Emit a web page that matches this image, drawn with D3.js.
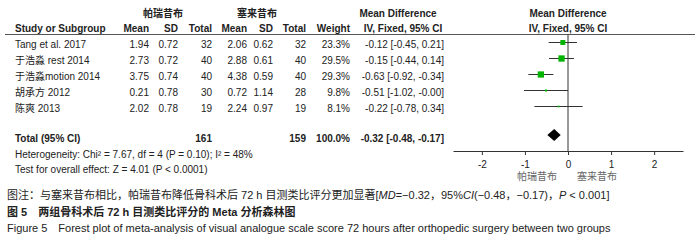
<!DOCTYPE html>
<html>
<head>
<meta charset="utf-8">
<script src="https://cdn.jsdelivr.net/npm/d3@7"></script>
<style>
  body { margin: 0; background: #fff; }
  svg { display: block; font-family: "Liberation Sans", Arial, "Noto Sans CJK SC", sans-serif; }
</style>
</head>
<body>
<div id="forest"></div>
<script>
// data
const studies = ["Tang et al. 2017", "于浩淼 rest 2014", "于浩淼motion 2014", "胡承方 2012", "陈爽 2013"];
const expMean = [1.94, 2.73, 3.75, 0.21, 2.02];
const expSD = [0.72, 0.72, 0.74, 0.78, 0.78];
const expN = [32, 40, 40, 30, 19];
const ctlMean = [2.06, 2.88, 4.38, 0.72, 2.24];
const ctlSD = [0.62, 0.61, 0.59, 1.14, 0.97];
const ctlN = [32, 40, 40, 28, 19];
const weights = [23.3, 29.5, 29.3, 9.8, 8.1];
const md = [-0.12, -0.15, -0.63, -0.51, -0.22];
const ciLow = [-0.45, -0.44, -0.92, -1.02, -0.78];
const ciHigh = [0.21, 0.14, -0.34, -0.0, 0.34];
const total = {expN: 161, ctlN: 159, weight: 100.0, md: -0.32, lo: -0.48, hi: -0.17};
const ticks = [-2, -1, 0, 1, 2];

const W = 700, H = 244;
const svg = d3.select("#forest").append("svg")
  .attr("width", W).attr("height", H);
svg.append("rect").attr("width", W).attr("height", H).attr("fill", "#fff");

const ink = "#222";
// plain hyphen minus like RevMan, keeps "-0.00"
const fmt2 = v => (v < 0 || Object.is(v, -0) ? "-" : "") + Math.abs(v).toFixed(2);
const fmtCI = (m, l, h) => `${fmt2(m)} [${fmt2(l)}, ${fmt2(h)}]`;

// x scale for the plot panel
const x = d3.scaleLinear().domain([-2.67, 2.67]).range([453, 683]);
const rowY = i => 48 + i * 16;      // text baseline
const markY = i => rowY(i) - 5.5;    // centre of marks
const sq = d3.scaleLinear().domain([0, 30]).range([0, 6.4]);

function txt(t, xx, yy, anchor, opts = {}) {
  return svg.append("text")
    .attr("x", xx).attr("y", yy)
    .attr("text-anchor", anchor || "start")
    .attr("font-size", opts.size || 10)
    .attr("font-weight", opts.bold ? "bold" : null)
    .attr("fill", opts.fill || ink)
    .text(t);
}

// headers
txt("帕瑞昔布", 163, 17, "middle", {bold: true});
txt("塞来昔布", 257, 17, "middle", {bold: true});
txt("Mean Difference", 398, 17, "middle", {bold: true});
txt("Mean Difference", 568, 17, "middle", {bold: true});

const hy = 32;
txt("Study or Subgroup", 15, hy, "start", {bold: true});
txt("Mean", 149, hy, "end", {bold: true});
txt("SD", 178, hy, "end", {bold: true});
txt("Total", 212, hy, "end", {bold: true});
txt("Mean", 247, hy, "end", {bold: true});
txt("SD", 273, hy, "end", {bold: true});
txt("Total", 306, hy, "end", {bold: true});
txt("Weight", 350, hy, "end", {bold: true});
txt("IV, Fixed, 95% CI", 403, hy, "middle", {bold: true});
txt("IV, Fixed, 95% CI", 568, hy, "middle", {bold: true});

svg.append("line")
  .attr("x1", 5).attr("x2", 695).attr("y1", 34.5).attr("y2", 34.5)
  .attr("stroke", "#555").attr("stroke-width", 1);

// study rows
studies.forEach((s, i) => {
  const y = rowY(i);
  txt(s, 15, y);
  txt(fmt2(expMean[i]), 149, y, "end");
  txt(fmt2(expSD[i]), 178, y, "end");
  txt(expN[i], 212, y, "end");
  txt(fmt2(ctlMean[i]), 247, y, "end");
  txt(fmt2(ctlSD[i]), 273, y, "end");
  txt(ctlN[i], 306, y, "end");
  txt(weights[i].toFixed(1) + "%", 350, y, "end");
  txt(fmtCI(md[i], ciLow[i], ciHigh[i]), 444, y, "end");
});

// total row
const ty = 142;
txt("Total (95% CI)", 15, ty, "start", {bold: true});
txt(total.expN, 212, ty, "end", {bold: true});
txt(total.ctlN, 306, ty, "end", {bold: true});
txt(total.weight.toFixed(1) + "%", 350, ty, "end", {bold: true});
txt(fmtCI(total.md, total.lo, total.hi), 444, ty, "end", {bold: true});
txt("Heterogeneity: Chi² = 7.67, df = 4 (P = 0.10); I² = 48%", 15, 158);
txt("Test for overall effect: Z = 4.01 (P < 0.0001)", 15, 173);

// zero line
const axisY = 151;
svg.append("line")
  .attr("x1", x(0)).attr("x2", x(0)).attr("y1", 34.5).attr("y2", axisY)
  .attr("stroke", "#333").attr("stroke-width", 1);

// CI lines and squares
const g = svg.append("g");
g.selectAll("line.ci").data(studies).join("line")
  .attr("class", "ci")
  .attr("x1", (d, i) => x(ciLow[i])).attr("x2", (d, i) => x(ciHigh[i]))
  .attr("y1", (d, i) => markY(i)).attr("y2", (d, i) => markY(i))
  .attr("stroke", "#333").attr("stroke-width", 1);
g.selectAll("rect.sq").data(studies).join("rect")
  .attr("class", "sq")
  .attr("x", (d, i) => x(md[i]) - sq(weights[i]) / 2)
  .attr("y", (d, i) => markY(i) - sq(weights[i]) / 2)
  .attr("width", (d, i) => sq(weights[i]))
  .attr("height", (d, i) => sq(weights[i]))
  .attr("fill", "#00b400");

// diamond
const dy = 135;
svg.append("path")
  .attr("d", `M${x(total.lo)},${dy} L${x(total.md)},${dy - 6} L${x(total.hi)},${dy} L${x(total.md)},${dy + 6} Z`)
  .attr("fill", "#000");

// axis
const axis = svg.append("g")
  .attr("transform", `translate(0,${axisY})`)
  .call(d3.axisBottom(x).tickValues(ticks).tickSize(4).tickSizeOuter(0));
axis.select(".domain").attr("stroke", "#333");
axis.selectAll(".tick line").attr("stroke", "#333");
axis.selectAll(".tick text")
  .attr("font-size", 10).attr("fill", ink)
  .attr("font-family", "Liberation Sans, Arial, sans-serif")
  .attr("dy", "0.95em").text(d => d < 0 ? "-" + Math.abs(d) : d);

txt("帕瑞昔布", 537, 180, "middle", {fill: "#666", size: 10});
txt("塞来昔布", 597, 180, "middle", {fill: "#666", size: 10});

// caption
const cap1 = svg.append("text").attr("x", 7).attr("y", 199)
  .attr("font-size", 11).attr("fill", ink);
cap1.append("tspan").text("图注：与塞来昔布相比，帕瑞昔布降低骨科术后 72 h 目测类比评分更加显著[");
cap1.append("tspan").attr("font-style", "italic").text("MD");
cap1.append("tspan").text("=−0.32，95%");
cap1.append("tspan").attr("font-style", "italic").text("CI");
cap1.append("tspan").text("(−0.48，−0.17)，");
cap1.append("tspan").attr("font-style", "italic").text("P");
cap1.append("tspan").text(" < 0.001]");

txt("图 5　两组骨科术后 72 h 目测类比评分的 Meta 分析森林图", 7, 216, "start", {bold: true, size: 11});
txt("Figure 5　Forest plot of meta-analysis of visual analogue scale score 72 hours after orthopedic surgery between two groups", 7, 232, "start", {size: 11});
</script>
</body>
</html>
